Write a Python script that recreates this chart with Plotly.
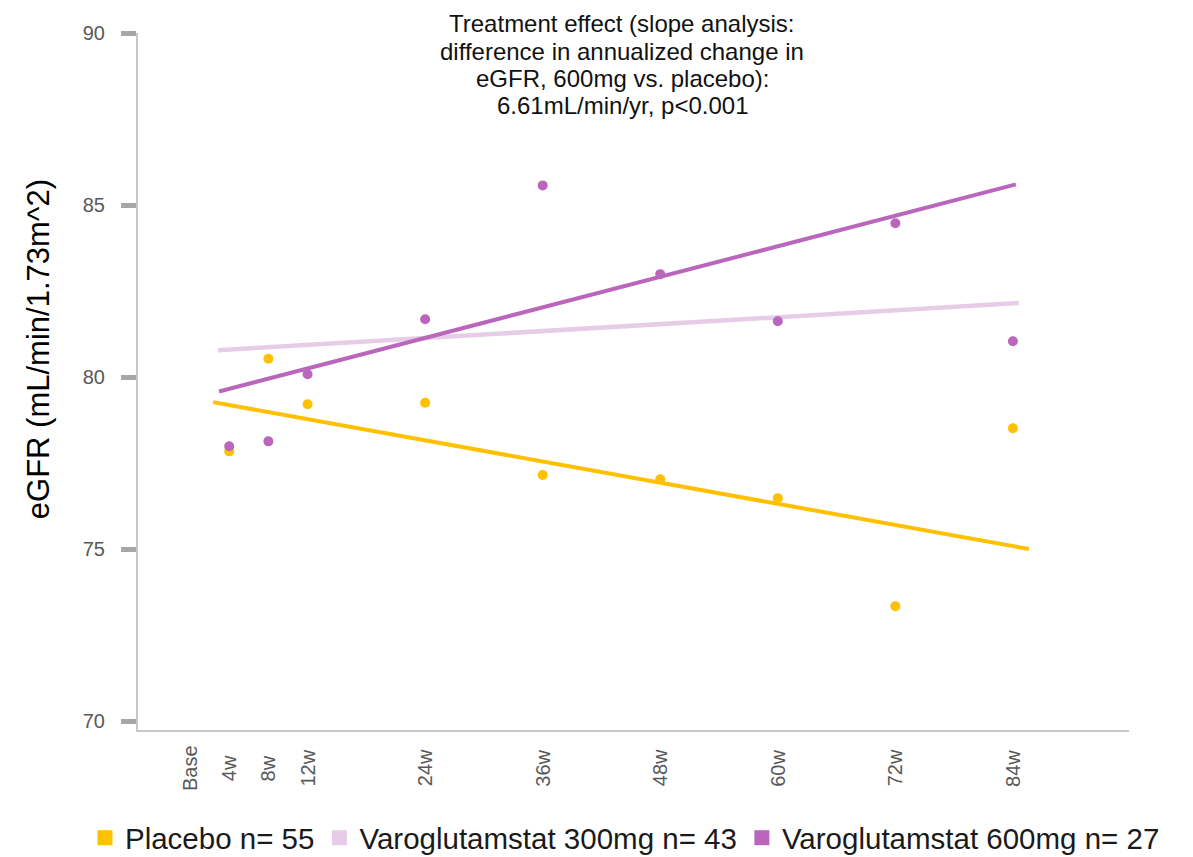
import plotly.graph_objects as go

# ---- data ----
weeks = [4, 8, 12, 24, 36, 48, 60, 72, 84]
tick_vals = [0, 4, 8, 12, 24, 36, 48, 60, 72, 84]
tick_text = ["Base", "4w", "8w", "12w", "24w", "36w", "48w", "60w", "72w", "84w"]

placebo = [77.84, 80.53, 79.21, 79.25, 77.15, 77.03, 76.48, 73.34, 78.51]
dose600 = [77.99, 78.13, 80.08, 81.68, 85.57, 82.99, 81.62, 84.47, 81.04]

trend_placebo_x = [2.35, 85.63]
trend_placebo_y = [79.27, 75.0]
trend_300_x = [2.86, 84.6]
trend_300_y = [80.78, 82.15]
trend_600_x = [2.96, 84.3]
trend_600_y = [79.58, 85.6]

legend_names = ["Placebo n= 55", "Varoglutamstat 300mg n= 43", "Varoglutamstat 600mg n= 27"]
y_ticks = [70, 75, 80, 85, 90]

title_lines = [
    "Treatment effect (slope analysis:",
    "difference in annualized change in",
    "eGFR, 600mg vs. placebo):",
    "6.61mL/min/yr, p<0.001",
]

# ---- style ----
C_PLA = "#FFC000"
C_300 = "#E6CCE7"
C_600 = "#BA66BC"
FONT = "Liberation Sans, Arial, sans-serif"

fig = go.Figure()

fig.add_trace(go.Scatter(x=trend_300_x, y=trend_300_y, mode="lines",
                         line=dict(color=C_300, width=4.5), showlegend=False, hoverinfo="skip"))
fig.add_trace(go.Scatter(x=trend_600_x, y=trend_600_y, mode="lines",
                         line=dict(color=C_600, width=4), showlegend=False, hoverinfo="skip"))
fig.add_trace(go.Scatter(x=trend_placebo_x, y=trend_placebo_y, mode="lines",
                         line=dict(color=C_PLA, width=4), showlegend=False, hoverinfo="skip"))

fig.add_trace(go.Scatter(x=weeks, y=placebo, mode="markers",
                         marker=dict(color=C_PLA, size=10), showlegend=False))
fig.add_trace(go.Scatter(x=weeks, y=dose600, mode="markers",
                         marker=dict(color=C_600, size=10), showlegend=False))

for name, col in zip(legend_names, [C_PLA, C_300, C_600]):
    fig.add_trace(go.Scatter(x=[None], y=[None], mode="markers", name=name,
                             marker=dict(color=col, size=15, symbol="square")))

annotations = []
for v, t in zip(tick_vals, tick_text):
    annotations.append(dict(x=v, xref="x", y=0, yref="paper", yshift=-38,
                            text=t, showarrow=False, textangle=-90,
                            xanchor="center", yanchor="middle",
                            font=dict(family=FONT, size=20, color="#595959")))

title_shifts = [9.3, -18.0, -45.3, -72.6]
for line, sh in zip(title_lines, title_shifts):
    annotations.append(dict(x=0.4884, xref="paper", y=1, yref="paper", yshift=sh,
                            text=line, showarrow=False, xanchor="center", yanchor="middle",
                            font=dict(family=FONT, size=24, color="#111111")))

annotations.append(dict(x=-0.1009, xref="paper", y=0.5464, yref="paper",
                        text="eGFR (mL/min/1.73m^2)", showarrow=False, textangle=-90,
                        xanchor="center", yanchor="middle",
                        font=dict(family=FONT, size=31, color="#000000")))

fig.update_layout(
    width=1193, height=857,
    margin=dict(l=138, r=64, t=33, b=127, autoexpand=False),
    plot_bgcolor="white", paper_bgcolor="white",
    font=dict(family=FONT),
    annotations=annotations,
    legend=dict(orientation="h", x=-0.0535, xanchor="left", y=-0.155, yanchor="middle",
                font=dict(family=FONT, size=29.5, color="#1a1a1a"),
                itemwidth=30, tracegroupgap=0),
    xaxis=dict(range=[-5.31, 95.85], showgrid=False, zeroline=False,
               showline=True, linecolor="#C8C8C8", linewidth=2,
               showticklabels=False, ticks=""),
    yaxis=dict(range=[69.74, 90], showgrid=False, zeroline=False,
               showline=True, linecolor="#C8C8C8", linewidth=2,
               tickvals=y_ticks, ticks="outside", ticklen=15, tickwidth=5,
               tickcolor="#A6A6A6", ticklabelstandoff=12,
               tickfont=dict(family=FONT, size=20, color="#595959")),
)

fig.write_html("out.html", config={"displayModeBar": False},
               post_script="document.body.style.margin='0px';")
